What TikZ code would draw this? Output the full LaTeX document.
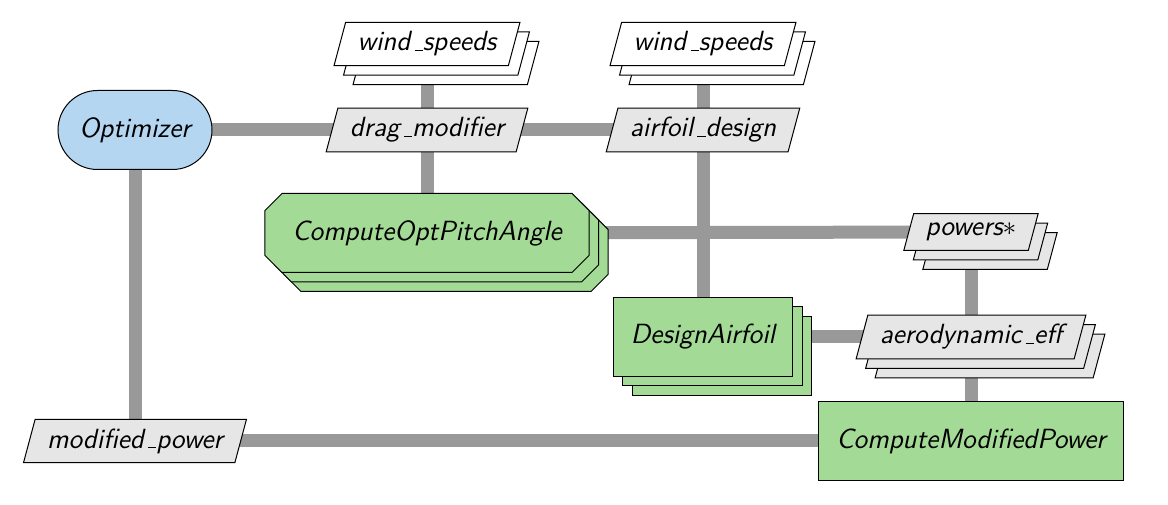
\documentclass[tikz,border=0pt]{standalone}
\usetikzlibrary{shapes.geometric,shapes.misc,shadows,backgrounds}
\definecolor{optfill}{HTML}{B5D6F0}
\definecolor{funcfill}{HTML}{A3DA96}
\definecolor{datafill}{HTML}{E6E6E6}
\definecolor{linegray}{HTML}{999999}
\newcommand\uscore{\leavevmode\kern.15em\vbox{\hrule width .3em}}
\tikzset{
  every node/.style={font=\fontsize{11.1}{13}\sffamily\itshape, text=black},
  twocopies/.style={copy shadow={shadow xshift=7.6pt, shadow yshift=-7.6pt}, copy shadow={shadow xshift=3.8pt, shadow yshift=-3.8pt}},
  optbox/.style={draw, fill=optfill, rounded corners=15.8pt, minimum width=61.6pt, minimum height=31.6pt, inner xsep=8pt},
  funcbox/.style={draw, fill=funcfill, minimum height=31.6pt, inner xsep=7pt},
  mfunc/.style={funcbox, twocopies},
  chamfunc/.style={draw, fill=funcfill, chamfered rectangle, chamfered rectangle xsep=4pt, minimum height=31.6pt, inner xsep=7pt, twocopies},
  databox/.style={draw, fill=datafill, trapezium, trapezium left angle=75, trapezium right angle=105, inner ysep=3.7pt, inner xsep=4.8pt},
  mdata/.style={databox, twocopies},
  wdata/.style={databox, fill=white, twocopies},
  conn/.style={line width=5.2pt, draw=linegray}
}
\begin{document}
\begin{tikzpicture}[x=0.4pt, y=-0.4pt]
\useasboundingbox (0,0) rectangle (1168,505);
\node[optbox] (opt) at (135,130) {Optimizer};
\node[wdata] (ws1) at (427,44) {wind\uscore speeds};
\node[wdata] (ws2) at (703,44) {wind\uscore speeds};
\node[databox] (drag) at (427,130) {drag\uscore modifier};
\node[databox] (airf) at (703,130) {airfoil\uscore design};
\node[chamfunc] (copa) at (427,233) {ComputeOptPitchAngle};
\node[mdata] (pow) at (971,232) {powers$\ast$};
\node[mfunc] (da) at (703,337) {DesignAirfoil};
\node[mdata] (aero) at (971,337) {aerodynamic\uscore eff};
\node[databox] (modp) at (135,441) {modified\uscore power};
\node[funcbox] (cmp) at (971,441) {ComputeModifiedPower};
\begin{scope}[on background layer]
\draw[conn] (opt.center) -- (drag.center);
\draw[conn] (drag.center) -- (airf.center);
\draw[conn] (ws1.center) -- (drag.center);
\draw[conn] (drag.center) -- (copa.center);
\draw[conn] (ws2.center) -- (airf.center);
\draw[conn] (airf.center) -- (da.center);
\draw[conn] (copa.center) -- (pow.center);
\draw[conn] (pow.center) -- (aero.center);
\draw[conn] (aero.center) -- (cmp.center);
\draw[conn] (da.center) -- (aero.center);
\draw[conn] (opt.center) -- (modp.center);
\draw[conn] (modp.center) -- (cmp.center);
\end{scope}
\end{tikzpicture}
\end{document}
